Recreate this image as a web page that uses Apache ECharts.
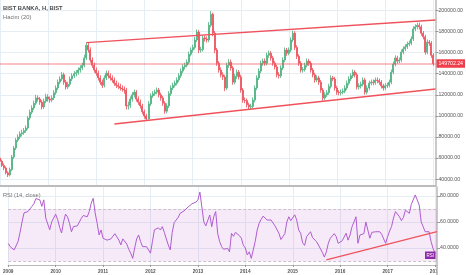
<!DOCTYPE html>
<html><head><meta charset="utf-8">
<script src="https://cdn.jsdelivr.net/npm/echarts@6/dist/echarts.min.js"></script>
<style>html,body{margin:0;padding:0;background:#fff}#c{width:466px;height:275px}</style>
</head><body><div id="c"></div>
<script>
// ---- data (prices in thousands TRY, semi-monthly candles from 2009-01-01) ----
const startYear = 2009;
const categoryCount = 218;
const yearTicks = ['2009','2010','2011','2012','2013','2014','2015','2016','2017','2018'];
const priceTicks = [40000, 60000, 80000, 100000, 120000, 140000, 160000, 180000, 200000];
const rsiTicks = [40, 60, 80];

const openK = [
60,57,53,50.5,46,44,49,61,69.5,77,
80,83,84,86,88.5,98,103.5,107.5,112,117,
116,113,108.5,114,118,116,115,117,122,126.5,
132,135,139,132,127.5,130,135,138,140,141,
143.5,145.5,148,155,167,162.5,153,148,143.5,140.5,
136,132,129,136,140.5,138,136,134,131,129,
128,126.5,125.5,124.5,109.5,110,116,120,122.5,116,
113,109.5,104,100,97,111.5,119,121,122.5,124.5,
120,117,112,104.5,109.5,121,126.5,129,131,134,
138,142.5,146.5,148,151,158.5,162.5,165,172,179.5,
162.5,163,174,173,172,186,196.5,178.5,162.5,150,
143.5,139,137,126.5,148,151,145.5,132,137.5,141.5,
137,124.5,115,114.5,110.5,108.5,109,115,126.5,136,
142.5,150,152,150,157.5,159.5,155,150,146.5,139,
138,145.5,153,162.5,159.5,162.5,172,178.5,165,156.5,
150,143.5,144,148,152,150,143.5,139,134,136,
132,124.5,117,120,122,128,136,135,126.5,122.5,
122,122.5,123.5,126.5,131,135,138,141.5,139,127.5,
128.5,130,134,122.5,126.5,131,132,131.5,134,133.5,
132,128.5,126.5,128.5,129,132,141.5,149,155,152,
153,160.5,163.5,165.5,168,169,173,182.5,184.5,186,
184.5,178.5,175,160.5,170,169,157.5];

const closeK = [
57,53,50.5,46,44,49,61,69.5,77,80,
83,84,86,88.5,98,103.5,107.5,112,117,116,
113,108.5,114,118,116,115,117,122,126.5,132,
135,139,132,127.5,130,135,138,140,141,143.5,
145.5,148,155,167,162.5,153,148,143.5,140.5,136,
132,129,136,140.5,138,136,134,131,129,128,
126.5,125.5,124.5,109.5,110,116,120,122.5,116,113,
109.5,104,100,97,111.5,119,121,122.5,124.5,120,
117,112,104.5,109.5,121,126.5,129,131,134,138,
142.5,146.5,148,151,158.5,162.5,165,172,179.5,162.5,
163,174,173,172,186,196.5,178.5,162.5,150,143.5,
139,137,126.5,148,151,145.5,132,137.5,141.5,137,
124.5,115,114.5,110.5,108.5,109,115,126.5,136,142.5,
150,152,150,157.5,159.5,155,150,146.5,139,138,
145.5,153,162.5,159.5,162.5,172,178.5,165,156.5,150,
143.5,144,148,152,150,143.5,139,134,136,132,
124.5,117,120,122,128,136,135,126.5,122.5,122,
122.5,123.5,126.5,131,135,138,141.5,139,127.5,128.5,
130,134,122.5,126.5,131,132,131.5,134,133.5,132,
128.5,126.5,128.5,129,132,141.5,149,155,152,153,
160.5,163.5,165.5,168,169,173,182.5,184.5,186,184.5,
178.5,175,160.5,170,169,157.5,149.70224];

const lowK = [
55,51.5,48.5,44.5,42,42.5,47.5,59,67.5,75,
78,80.5,82,84,87,96,101.5,105.5,110,113.5,
110.5,106,106.5,112,113.5,112.5,113,115,120,124.5,
130,133,129.5,125,125.5,128,133,136,137.5,139,
141,143.5,146,153,160,150.5,145.5,141,138,133.5,
129.5,126.5,127,134,135.5,133.5,131.5,128.5,126.5,125.5,
124,123,121,106,106,107.5,113.5,117.5,113.5,110.5,
107,101.5,97.5,96,96.5,109.5,117,119,120.5,117.5,
114.5,109.5,102,102.5,107.5,119,124.5,127,129,132,
136,140.5,144,146,149,156.5,160,163,170,159.5,
160,161,170.5,169.5,170,184,175.5,159.5,147.5,141,
136.5,134,123.5,124.5,145.5,143,129.5,130,135,134.5,
122,112.5,112,108,106,106,107,113,124.5,134,
140.5,147.5,147.5,148,155,152.5,147.5,144,136.5,135.5,
136,143.5,151,157,157.5,160.5,170,162.5,154,147.5,
141,141,142,146,147.5,141,136.5,131.5,132,129.5,
122,114.5,115,118,120,126,133,124,120,119.5,
119.5,120.5,121.5,124.5,129,133,136,136.5,125,125,
126,128,120,120.5,124.5,129,129,129.5,131,129.5,
126,124,124.5,126.5,127,130,139.5,147,149.5,150,
151,158.5,161.5,163.5,166,167,171,180.5,182,182,
176,172.5,158,158.5,166.5,155,147.5];

const highK = [
62,58.5,55,52,47.5,51,63,71.5,79,82.5,
85.5,87,88.5,91,100,106,110,114.5,120,119.5,
118,115,116.5,121,120.5,118.5,119.5,124.5,129,134.5,
137.5,141.5,141,134,132.5,137.5,140.5,142.5,143.5,146,
148,150.5,158,170,169.5,165,155.5,150.5,146,143,
138.5,134.5,138.5,143,143,140.5,138.5,136.5,133.5,131.5,
130.5,129,128,126.5,113.5,118.5,122.5,125,124.5,118.5,
115.5,111.5,106,102,114,121.5,123.5,125,127,126.5,
122,119,114,112,123.5,129,131.5,133.5,136.5,140.5,
145,149,150.5,153.5,161,165,167.5,175,182,181.5,
165.5,176.5,176.5,175.5,189,199.5,198,180.5,164.5,152,
146,141.5,139,150.5,154,153.5,147.5,140,144,143.5,
139,126.5,117.5,116.5,112.5,111.5,117.5,129,138.5,145,
152.5,154.5,154.5,160,162,161.5,157,152,148.5,141.5,
148,155.5,165,164.5,165,174.5,181,180.5,167,158.5,
152,146.5,150.5,154.5,154,152,145.5,141,138.5,138,
134,126.5,122.5,124.5,130.5,138.5,138,137,128.5,124.5,
125,126,129,133.5,137.5,140.5,144,143.5,141,131,
132.5,136.5,136,129,133.5,134.5,134.5,136.5,136.5,135.5,
134,130.5,131,131.5,134.5,144,151.5,157.5,157,155.5,
163,166,168,170.5,171.5,175.5,185,187,188.5,188.5,
186.5,180.5,177,172.5,172,171,159.5];

const rsiValues = [
43.5,41,42,38.5,39,45,52,60,67,68,
68,69,72,74,78,77,77,72,77,63,
62,54,60,63,66,62,56,51.5,60,66,
64,59,52.5,56.4,57,57,58,62.8,65,65,
64,68,74.4,78.2,67,59,50,53.8,47.5,49,
46,46,47,47.5,51,50.5,46,42.3,47,48,
43,39,36,32,40,47,50,44.9,41,42,
41,38.5,36,45,54,55.5,55.5,53.8,56.4,52,
47,42.3,38.5,52,59.5,61,63.5,66.7,67.5,68.5,
70,71.5,73,74,74.5,75.3,77,83,82,60,
57,57.7,65.4,56.4,64,68,51.3,44.9,41,39,
38.5,39.7,37,51.3,49,52,51.3,49.5,47.5,42,
40,34.6,37,32,38.5,45,53.8,59,62,64.5,
66,61.5,63,61.5,60,57,56.4,51.3,46.5,46,
51,60,64,61,61.5,65.5,61.5,53.8,51.3,44,
42,48.7,50,52.5,48,46.5,44.9,42.3,43.6,36.5,
33,37,43.6,47.5,46.5,51,48.7,43.6,44.9,45.5,
45.5,51.3,46,50,56.4,60,64,43.6,50,48.7,
51,60,53.8,47.5,52,52.5,52.5,52.5,52.5,50.5,
47,43.6,48.7,53,56.5,63,68,68,64,61,
63.5,69,70.5,66.7,73.5,75,80.8,82,73,60,
56.4,52.5,52,52.5,45,39.5,36];

const lastPrice = 149702.24;
const upperChannel = [['2010-10-16', 169500], ['2018-01-16', 191000]];
const lowerChannel = [['2011-05-16', 92300], ['2018-01-16', 125500]];
const rsiTrend = [['2015-09-16', 30.8], ['2018-01-16', 52.6]];
const rsiUpper = 70, rsiLower = 30;
const priceRange = [33486, 209962];
const rsiRange = [26.9, 86.9];
const titleText = 'BIST BANKA, H, BIST';
const volumeText = 'Hacim (20)';
const rsiText = 'RSI (14, close)';
const rsiTag = 'RSI';

// ---- build ----
const dates = [];
for (let y = startYear; dates.length < categoryCount; y++) {
  for (let m = 1; m <= 12 && dates.length < categoryCount; m++) {
    for (const d of ['01', '16']) {
      if (dates.length < categoryCount) dates.push(y + '-' + String(m).padStart(2, '0') + '-' + d);
    }
  }
}
const candles = closeK.map((c, i) => [openK[i] * 1000, c * 1000, lowK[i] * 1000, highK[i] * 1000]);
const isYearStart = (idx, val) => (typeof val === 'string' ? val : dates[idx]).endsWith('-01-01');

const FONT = 'Liberation Sans, Arial, sans-serif';
const GRID = '#e6edf3';
const UP = '#4bb17f', DOWN = '#ec4f5a', RED = '#f0525c';

const chart = echarts.init(document.getElementById('c'), null, {renderer: 'canvas'});
chart.setOption({
  animation: false,
  backgroundColor: '#ffffff',
  grid: [
    {left: 0, right: 29, top: 0, height: 186},
    {left: 0, right: 29, top: 187, height: 78}
  ],
  xAxis: [
    {type: 'category', gridIndex: 0, data: dates, boundaryGap: false,
     axisLine: {show: true, lineStyle: {color: '#bcbcbc', width: 2}},
     axisTick: {show: false}, axisLabel: {show: false},
     splitLine: {show: true, interval: isYearStart, lineStyle: {color: GRID, width: 1}}},
    {type: 'category', gridIndex: 1, data: dates, boundaryGap: false,
     axisLine: {show: true, lineStyle: {color: '#b8b8b8', width: 1}},
     axisTick: {show: true, interval: isYearStart, length: 2, lineStyle: {color: '#999'}},
     axisLabel: {show: true, interval: isYearStart, margin: 4, fontSize: 4.7, fontWeight: 'bold',
       fontFamily: FONT, color: '#555', alignMinLabel: 'center', alignMaxLabel: 'center',
       formatter: v => yearTicks[yearTicks.indexOf(v.slice(0, 4))]},
     splitLine: {show: true, interval: isYearStart, lineStyle: {color: GRID, width: 1}}}
  ],
  yAxis: [
    {type: 'value', gridIndex: 0, position: 'right', min: priceRange[0], max: priceRange[1], splitNumber: 9,
     axisLine: {show: true, lineStyle: {color: '#b8b8b8', width: 1.5}},
     axisTick: {show: true, length: 3, lineStyle: {color: '#999'}, customValues: priceTicks},
     axisLabel: {margin: 3, fontSize: 5.2, fontFamily: FONT, color: '#555', customValues: priceTicks,
       formatter: v => v.toFixed(2)},
     splitLine: {show: true, lineStyle: {color: GRID, width: 1}}},
    {type: 'value', gridIndex: 1, position: 'right', min: rsiRange[0], max: rsiRange[1], splitNumber: 3,
     axisLine: {show: true, lineStyle: {color: '#b8b8b8', width: 1.5}},
     axisTick: {show: true, length: 3, lineStyle: {color: '#999'}, customValues: rsiTicks},
     axisLabel: {margin: 3, fontSize: 5.2, fontFamily: FONT, color: '#555', customValues: rsiTicks,
       formatter: v => v.toFixed(4)},
     splitLine: {show: true, lineStyle: {color: GRID, width: 1}}}
  ],
  series: [
    {type: 'candlestick', xAxisIndex: 0, yAxisIndex: 0, data: candles, barWidth: 1.5,
     itemStyle: {color: UP, color0: DOWN, borderColor: UP, borderColor0: DOWN, borderWidth: 0.8},
     markLine: {silent: true, symbol: 'none', animation: false,
       data: [
         [{coord: upperChannel[0], lineStyle: {color: RED, width: 1.3, type: 'solid'}}, {coord: upperChannel[1]}],
         [{coord: lowerChannel[0], lineStyle: {color: RED, width: 1.3, type: 'solid'}}, {coord: lowerChannel[1]}],
         {yAxis: lastPrice, lineStyle: {color: 'rgba(240,70,80,0.45)', width: 1.6, type: 'solid'},
          label: {show: true, position: 'end', distance: 1, formatter: lastPrice.toFixed(2),
            color: '#fff', backgroundColor: '#ef3f4a', padding: [2, 2, 1.5, 2], fontSize: 5.2, fontFamily: FONT}}
       ],
       label: {show: false}}
    },
    {type: 'line', xAxisIndex: 1, yAxisIndex: 1, data: rsiValues, showSymbol: false,
     lineStyle: {color: '#b05cd0', width: 1}, z: 5,
     markArea: {silent: true, itemStyle: {color: 'rgba(170,60,200,0.11)'},
       data: [[{yAxis: rsiUpper}, {yAxis: rsiLower}]]},
     markLine: {silent: true, symbol: 'none', animation: false, label: {show: false},
       data: [
         {yAxis: rsiUpper, lineStyle: {color: '#cbbfd0', width: 1, type: [3, 2]}},
         {yAxis: rsiLower, lineStyle: {color: '#cbbfd0', width: 1, type: [3, 2]}},
         [{coord: rsiTrend[0], lineStyle: {color: RED, width: 1.2, type: 'solid'}}, {coord: rsiTrend[1]}]
       ]}
    }
  ],
  graphic: [
    {type: 'text', left: 3, top: 5, z: 50, style: {text: titleText, fontSize: 5.8, fontWeight: 'bold', fontFamily: FONT, fill: '#4a4a4a'}},
    {type: 'text', left: 3, top: 14.5, z: 50, style: {text: volumeText, fontSize: 5.8, fontFamily: FONT, fill: '#707070'}},
    {type: 'text', left: 3, top: 192, z: 50, style: {text: rsiText, fontSize: 5.7, fontFamily: FONT, fill: '#707070'}},
    {type: 'text', left: 425, top: 251.5, z: 50, style: {text: rsiTag, fontSize: 4.5, fontFamily: FONT, fill: '#fff',
      backgroundColor: '#8e2aa8', padding: [1.5, 1.5, 1, 1.5]}},
    {type: 'rect', left: 438, top: 266, z: 40, shape: {width: 28, height: 9}, style: {fill: '#fff'}},
    {type: 'line', z: 41, shape: {x1: 437, y1: 265, x2: 437, y2: 275}, style: {stroke: '#b8b8b8', lineWidth: 1.5}}
  ]
});
</script></body></html>
